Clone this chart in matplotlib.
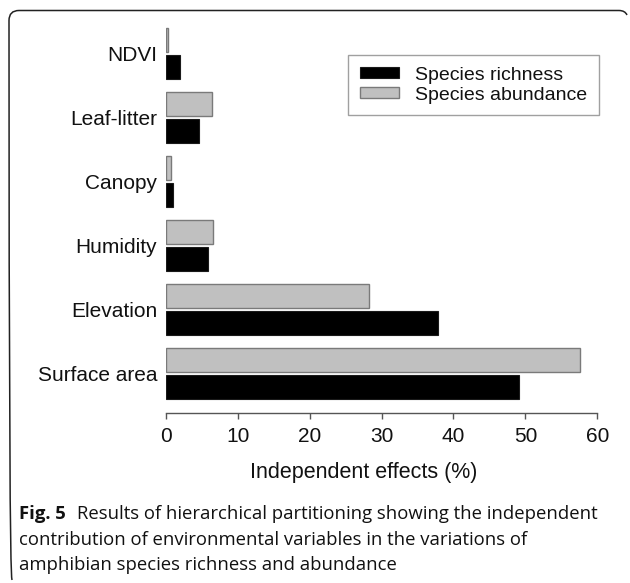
import matplotlib
matplotlib.use("Agg")
import matplotlib.pyplot as plt
from matplotlib.patches import Patch
from matplotlib.path import Path
from matplotlib.patches import PathPatch
import numpy as np

categories = ["Surface area", "Elevation", "Humidity", "Canopy", "Leaf-litter", "NDVI"]
richness = [49.1, 37.8, 5.9, 0.95, 4.6, 1.95]
abundance = [57.6, 28.3, 6.6, 0.7, 6.45, 0.35]
xticks = [0, 10, 20, 30, 40, 50, 60]
xlabel = "Independent effects (%)"
legend_labels = ["Species richness", "Species abundance"]
caption_bold = "Fig. 5"
caption_lines = [
    "Results of hierarchical partitioning showing the independent",
    "contribution of environmental variables in the variations of",
    "amphibian species richness and abundance",
]

W, H = 630, 583
fig = plt.figure(figsize=(W / 100, H / 100), dpi=100)
plt.rcParams['font.family'] = ['Liberation Sans', 'DejaVu Sans']

def px(x, y):
    return x / W, 1 - y / H

ax_left, ax_right = 165.7, 597.3
ax_top, ax_bot = 15, 413
ax = fig.add_axes([ax_left / W, 1 - ax_bot / H, (ax_right - ax_left) / W, (ax_bot - ax_top) / H])

pos = np.arange(len(categories))
h = 0.375
off = 0.21
ax.barh(pos - off, richness, height=h, color='black', edgecolor='#1a1a1a', linewidth=0.8,
        label=legend_labels[0])
ax.barh(pos + off, abundance, height=h, color='#c0c0c0', edgecolor='#7a7a7a', linewidth=1.0,
        label=legend_labels[1])

ax.set_xlim(0, 60)
ax.set_ylim(-0.617, 5.6)
ax.set_xticks(xticks)
ax.set_xticklabels([str(t) for t in xticks], fontsize=15, color='#111')
ax.set_yticks(pos)
ax.set_yticklabels(categories, fontsize=15, color='#111')
ax.tick_params(axis='y', length=0, pad=6)
ax.tick_params(axis='x', length=4, width=1, color='#555', pad=6)
for s in ['top', 'right', 'left']:
    ax.spines[s].set_visible(False)
ax.spines['bottom'].set_color('#555')
ax.spines['bottom'].set_linewidth(1)
ax.set_xlabel(xlabel, fontsize=15.5, color='#111', va='top')
ax.xaxis.set_label_coords((364 - ax_left) / (ax_right - ax_left), -(462 - ax_bot) / (ax_bot - ax_top))

handles = [Patch(facecolor='black', edgecolor='#1a1a1a', linewidth=0.8),
           Patch(facecolor='#c0c0c0', edgecolor='#7a7a7a', linewidth=1.0)]
leg = fig.legend(handles, legend_labels, loc='upper right', bbox_to_anchor=px(599, 55),
                 fontsize=14, frameon=True, fancybox=False, edgecolor='#888',
                 handlelength=2.0, handleheight=0.5, handletextpad=0.85,
                 labelspacing=0.15, borderpad=0.6, borderaxespad=0)
leg.get_frame().set_linewidth(1.0)
for t in leg.get_texts():
    t.set_color('#111')

# frame
r = 10
verts = [px(12, 580), px(9, 575), px(9, 10.5 + r), px(9, 10.5), px(9 + r, 10.5),
         px(619, 10.5), px(625, 10.5), px(627, 15)]
codes = [Path.MOVETO, Path.CURVE3, Path.LINETO, Path.CURVE3, Path.CURVE3,
         Path.LINETO, Path.CURVE3, Path.CURVE3]
fig.patches.append(PathPatch(Path(verts, codes), transform=fig.transFigure,
                             fill=False, edgecolor='#222', linewidth=1.1))

# caption
cap_font = ['Open Sans', 'DejaVu Sans']
cap_size = 13.3
x0 = 19
ys = [519, 545, 570]
fig.canvas.draw()
r_ = fig.canvas.get_renderer()
tb = fig.text(*px(x0, ys[0]), caption_bold, fontsize=cap_size, fontweight='bold',
              family=cap_font, va='baseline', ha='left', color='#111')
bb = tb.get_window_extent(r_)
fig.text(bb.x1 / W + 11 / W, 1 - ys[0] / H, caption_lines[0], fontsize=cap_size,
         family=cap_font, va='baseline', ha='left', color='#111')
for line, y in zip(caption_lines[1:], ys[1:]):
    fig.text(*px(x0, y), line, fontsize=cap_size, family=cap_font, va='baseline',
             ha='left', color='#111')

fig.savefig("out.png", dpi=100)
